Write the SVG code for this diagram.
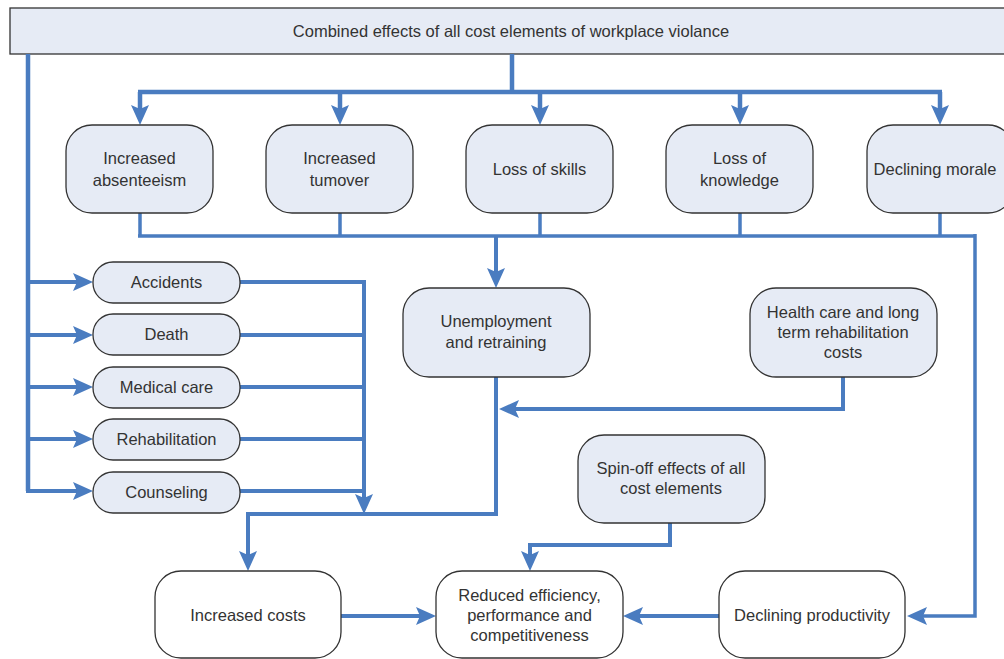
<svg xmlns="http://www.w3.org/2000/svg" width="1004" height="659" viewBox="0 0 1004 659">
<defs>
<style>
.bx{fill:#e6ebf5;stroke:#333;stroke-width:1.3}
.bw{fill:#fff;stroke:#333;stroke-width:1.3}
.t{font-family:"Liberation Sans",Arial,sans-serif;font-size:16.5px;fill:#333;text-anchor:middle}
.c{fill:none;stroke:#4a7cc0;stroke-width:4}
</style>
<marker id="ah" markerUnits="userSpaceOnUse" viewBox="0 0 20 18" markerWidth="20" markerHeight="18" refX="10" refY="9" orient="auto">
<path d="M0,0 L20,9 L0,18 L4,9 z" fill="#4a7cc0"/>
</marker>
</defs>
<rect width="1004" height="659" fill="#fff"/>
<g id="top">
<rect class="bx" x="10" y="8" width="1000" height="46"/>
<text class="t" x="511" y="37">Combined effects of all cost elements of workplace violance</text>
</g>
<g id="connectors">
<path class="c" style="stroke-width:4.5" d="M512,54 V92 M138,92 H942 M28,54 V491"/>
<path class="c" style="stroke-width:4.5" marker-end="url(#ah)" d="M140,92 V115"/>
<path class="c" style="stroke-width:4.5" marker-end="url(#ah)" d="M340,92 V115"/>
<path class="c" style="stroke-width:4.5" marker-end="url(#ah)" d="M540,92 V115"/>
<path class="c" style="stroke-width:4.5" marker-end="url(#ah)" d="M740,92 V115"/>
<path class="c" style="stroke-width:4.5" marker-end="url(#ah)" d="M940,92 V115"/>
<path class="c" style="stroke-width:3.5" d="M140,213 V236 M340,213 V236 M540,213 V236 M740,213 V236 M940,213 V236 M138,236 H975"/>
<path class="c" marker-end="url(#ah)" d="M496,236 V278"/>
<path class="c" style="stroke-width:3.5" marker-end="url(#ah)" d="M975,234 V616 H917"/>
<path class="c" marker-end="url(#ah)" d="M28,282 H83"/>
<path class="c" marker-end="url(#ah)" d="M28,335 H83"/>
<path class="c" marker-end="url(#ah)" d="M28,387 H83"/>
<path class="c" marker-end="url(#ah)" d="M28,439 H83"/>
<path class="c" marker-end="url(#ah)" d="M26,491 H83"/>
<path class="c" d="M240,282 H366 M240,335 H364 M240,387 H364 M240,439 H364 M240,491 H366"/>
<path class="c" marker-end="url(#ah)" d="M364,282 V504"/>
<path class="c" marker-end="url(#ah)" d="M496,377 V514 H248 V561"/>
<path class="c" marker-end="url(#ah)" d="M843,377 V409 H509"/>
<path class="c" marker-end="url(#ah)" d="M670,523 V545 H530 V561"/>
<path class="c" marker-end="url(#ah)" d="M341,616 H426"/>
<path class="c" marker-end="url(#ah)" d="M719,616 H633"/>
</g>
<g id="absenteeism"><rect class="bx" x="66" y="125" width="147" height="88" rx="26"/><text class="t" x="139.5" y="164">Increased</text><text class="t" x="139.5" y="186">absenteeism</text></g>
<g id="turnover"><rect class="bx" x="266" y="125" width="147" height="88" rx="26"/><text class="t" x="339.5" y="164">Increased</text><text class="t" x="339.5" y="186">tumover</text></g>
<g id="skills"><rect class="bx" x="466" y="125" width="147" height="88" rx="26"/><text class="t" x="539.5" y="175">Loss of skills</text></g>
<g id="knowledge"><rect class="bx" x="666" y="125" width="147" height="88" rx="26"/><text class="t" x="739.5" y="164">Loss of</text><text class="t" x="739.5" y="186">knowledge</text></g>
<g id="morale"><rect class="bx" x="867" y="125" width="147" height="88" rx="26"/><text class="t" x="935" y="175">Declining morale</text></g>
<g id="accidents"><rect class="bx" x="93" y="262" width="147" height="41" rx="20"/><text class="t" x="166.5" y="288">Accidents</text></g>
<g id="death"><rect class="bx" x="93" y="314" width="147" height="41" rx="20"/><text class="t" x="166.5" y="340">Death</text></g>
<g id="medical"><rect class="bx" x="93" y="367" width="147" height="41" rx="20"/><text class="t" x="166.5" y="393">Medical care</text></g>
<g id="rehab"><rect class="bx" x="93" y="419" width="147" height="41" rx="20"/><text class="t" x="166.5" y="445">Rehabilitation</text></g>
<g id="counseling"><rect class="bx" x="93" y="472" width="147" height="41" rx="20"/><text class="t" x="166.5" y="498">Counseling</text></g>
<g id="unemployment"><rect class="bx" x="403" y="288" width="187" height="89" rx="26"/><text class="t" x="496" y="327">Unemployment</text><text class="t" x="496" y="348">and retraining</text></g>
<g id="healthcare"><rect class="bx" x="750" y="288" width="187" height="89" rx="26"/><text class="t" x="843" y="318">Health care and long</text><text class="t" x="843" y="338">term rehabilitation</text><text class="t" x="843" y="358">costs</text></g>
<g id="spinoff"><rect class="bx" x="578" y="435" width="187" height="88" rx="26"/><text class="t" x="671" y="474">Spin-off effects of all</text><text class="t" x="671" y="494">cost elements</text></g>
<g id="costs"><rect class="bw" x="155" y="571" width="186" height="87" rx="26"/><text class="t" x="248" y="621">Increased costs</text></g>
<g id="reduced"><rect class="bw" x="436" y="571" width="187" height="87" rx="26"/><text class="t" x="529.5" y="601">Reduced efficiency,</text><text class="t" x="529.5" y="621">performance and</text><text class="t" x="529.5" y="641">competitiveness</text></g>
<g id="productivity"><rect class="bw" x="719" y="571" width="186" height="87" rx="26"/><text class="t" x="812" y="621">Declining productivity</text></g>
</svg>
